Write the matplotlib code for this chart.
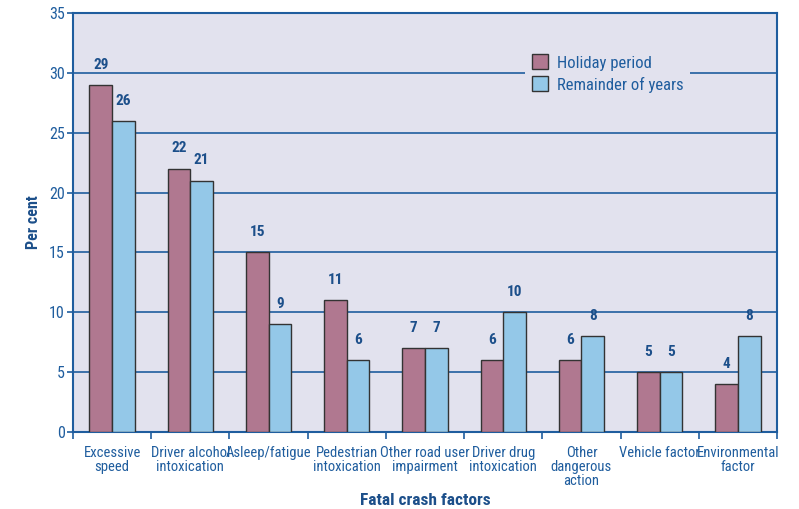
import matplotlib.pyplot as plt
import numpy as np

categories = ["Excessive\nspeed", "Driver alcohol\nintoxication", "Asleep/fatigue",
              "Pedestrian\nintoxication", "Other road user\nimpairment", "Driver drug\nintoxication",
              "Other\ndangerous\naction", "Vehicle factor", "Environmental\nfactor"]
holiday = [29, 22, 15, 11, 7, 6, 6, 5, 4]
remainder = [26, 21, 9, 6, 7, 10, 8, 5, 8]

blue = "#1f5d9e"
dark = "#1c4f8a"
plt.rcParams['font.family'] = ['Roboto Condensed', 'Liberation Sans Narrow', 'Roboto', 'DejaVu Sans']

fig = plt.figure(figsize=(7.99, 5.09), dpi=100)
ax = fig.add_axes([0.0914, 0.1513, 0.8811, 0.8232])
ax.set_facecolor("#e2e2ee")

x = np.arange(len(categories))
w = 0.29
ax.bar(x - w / 2, holiday, w, color="#b07890", edgecolor="#333333", linewidth=1, label="Holiday period", zorder=3)
ax.bar(x + w / 2, remainder, w, color="#94c8e8", edgecolor="#333333", linewidth=1, label="Remainder of years", zorder=3)

# value labels above each bar
for xi, v in zip(x - w / 2, holiday):
    ax.text(xi, v + 1.1, str(v), ha="center", va="bottom", fontsize=11, fontweight="bold", color=dark, zorder=4)
for xi, v in zip(x + w / 2, remainder):
    ax.text(xi, v + 1.1, str(v), ha="center", va="bottom", fontsize=11, fontweight="bold", color=dark, zorder=4)

ax.set_xlim(-0.5, len(categories) - 0.5)
ax.set_ylim(0, 35)
ax.set_yticks(range(0, 36, 5))
ax.yaxis.grid(True, color=blue, linewidth=1.2, zorder=1)
ax.set_axisbelow(True)

# ticks between groups, labels centred under groups
ax.set_xticks(np.arange(len(categories) + 1) - 0.5)
ax.set_xticklabels([])
ax.set_xticks(x, minor=True)
ax.set_xticklabels(categories, minor=True, fontsize=10.5, color=blue, linespacing=1.0)
ax.tick_params(axis="x", which="major", direction="out", length=5, color=blue, width=1.2)
ax.tick_params(axis="x", which="minor", length=0, pad=10)
ax.tick_params(axis="y", direction="out", length=4, color=blue, width=1.2, labelsize=11.5, labelcolor=blue, pad=2)

for s in ax.spines.values():
    s.set_color(blue)
    s.set_linewidth(1.5)

ax.set_ylabel("Per cent", fontsize=11.5, fontweight="bold", color=dark, labelpad=6)
ax.set_xlabel("Fatal crash factors", fontsize=12.5, fontweight="bold", color=dark, labelpad=4)

leg = ax.legend(loc="upper left", bbox_to_anchor=(0.63, 0.937), frameon=True, fontsize=12,
                handlelength=1.0, handleheight=1.0, handletextpad=0.5, labelspacing=0.35, borderpad=0.4)
leg.get_frame().set_facecolor("#e2e2ee")
leg.get_frame().set_edgecolor("none")
leg.get_frame().set_alpha(1)
leg.set_zorder(5)
for t in leg.get_texts():
    t.set_color(blue)

fig.savefig("out.png", dpi=100)
